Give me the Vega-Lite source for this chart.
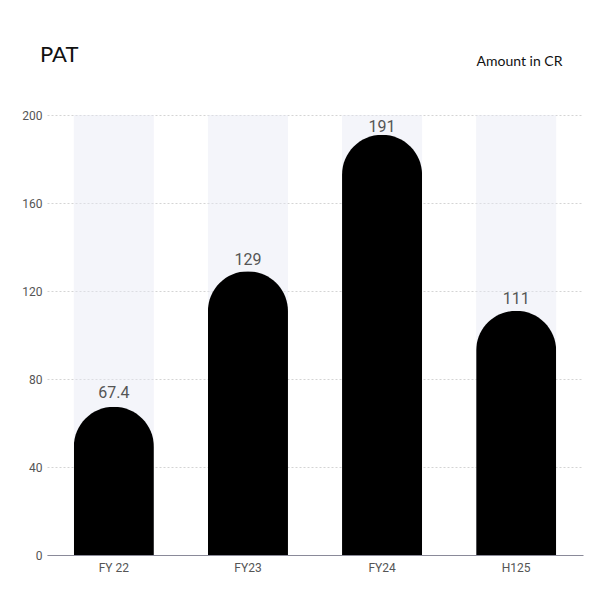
{
  "$schema": "https://vega.github.io/schema/vega-lite/v6.json",
  "width": 536,
  "height": 440,
  "autosize": {"type": "none"},
  "padding": {"left": 47, "top": 115, "right": 17, "bottom": 45},
  "background": "white",
  "config": {"view": {"stroke": null}},
  "title": {
    "text": "PAT",
    "anchor": "start",
    "frame": "group",
    "baseline": "alphabetic",
    "offset": 53,
    "dy": 83,
    "dx": -7,
    "font": "Lato",
    "fontSize": 22,
    "fontWeight": "normal",
    "color": "#111111"
  },
  "data": {
    "values": [
      {"period": "FY 22", "value": 67.4, "label": "67.4", "max": 200},
      {"period": "FY23", "value": 129, "label": "129", "max": 200},
      {"period": "FY24", "value": 191, "label": "191", "max": 200},
      {"period": "H125", "value": 111, "label": "111", "max": 200}
    ]
  },
  "encoding": {
    "x": {
      "field": "period",
      "type": "nominal",
      "sort": null,
      "scale": {"paddingInner": 0.403, "paddingOuter": 0.2},
      "axis": {
        "title": null,
        "labelAngle": 0,
        "labelFont": "Roboto",
        "labelFontSize": 12,
        "labelColor": "#555555",
        "labelPadding": 7,
        "ticks": false,
        "domainColor": "#8a8a99",
        "domainWidth": 1,
        "zindex": 1
      }
    }
  },
  "layer": [
    {
      "layer": [
        {
          "mark": {"type": "bar", "color": "#e6e9f4", "opacity": 0.45},
          "encoding": {
            "y": {
              "field": "max",
              "type": "quantitative",
              "scale": {"domain": [0, 200]},
              "axis": {
                "title": "Amount in CR",
                "titleAngle": 0,
                "titleX": 515,
                "titleY": -54,
                "titleAlign": "right",
                "titleBaseline": "middle",
                "titleFont": "Lato",
                "titleFontSize": 14,
                "titleFontWeight": "normal",
                "titleColor": "#111111",
                "values": [0, 40, 80, 120, 160, 200],
                "labelFont": "Roboto",
                "labelFontSize": 12,
                "labelColor": "#555555",
                "labelPadding": 5,
                "ticks": false,
                "domain": false,
                "grid": true,
                "gridDash": [2, 2],
                "gridColor": "#d4d4d4",
                "gridWidth": 1
              }
            }
          }
        },
        {
          "mark": {"type": "bar", "color": "#000000", "cornerRadiusTopLeft": 40, "cornerRadiusTopRight": 40},
          "encoding": {
            "y": {"field": "value", "type": "quantitative"}
          }
        }
      ]
    },
    {
      "mark": {"type": "text", "baseline": "alphabetic", "dy": -12, "font": "Roboto", "fontSize": 16, "color": "#555555"},
      "encoding": {
        "y": {"field": "value", "type": "quantitative", "scale": {"domain": [0, 204.5]}, "axis": null},
        "text": {"field": "label"}
      }
    }
  ],
  "resolve": {"scale": {"y": "independent"}}
}
